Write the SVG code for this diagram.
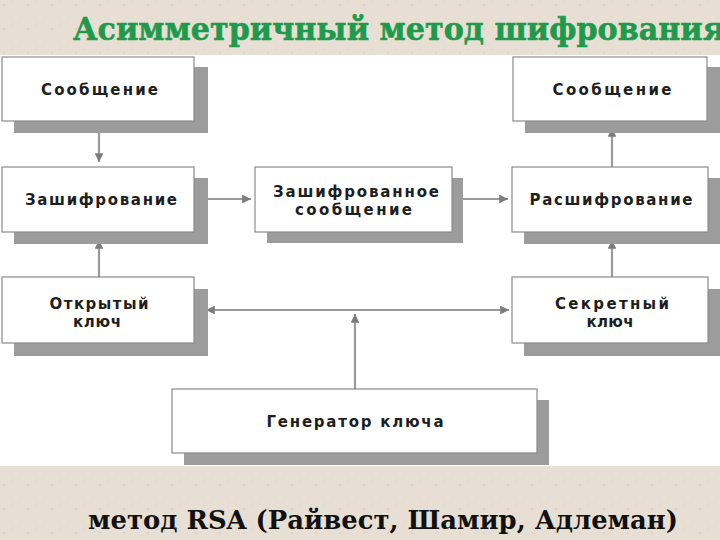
<svg xmlns="http://www.w3.org/2000/svg" width="720" height="540" viewBox="0 0 720 540">
<defs>
<style>
.box{fill:#ffffff;stroke:#8a8a8a;stroke-width:1.2}
.shd{fill:#9c9c9c}
.lbl{font-family:"DejaVu Sans","Liberation Sans",sans-serif;font-weight:bold;font-size:15px;fill:#1e1e1e;text-anchor:middle}
.con{stroke:#9a9a9a;stroke-width:2.2;fill:none}
.title{font-family:"DejaVu Serif","Liberation Serif",serif;font-weight:bold;font-size:32px;fill:#1f9a4c;stroke:#1f9a4c;stroke-width:0.6}
.sub{font-family:"DejaVu Serif","Liberation Serif",serif;font-weight:bold;font-size:26px;fill:#111111}
</style>
<marker id="ah" viewBox="0 0 10 10" refX="10" refY="5" markerWidth="4" markerHeight="4" orient="auto" markerUnits="strokeWidth">
<path d="M0,0 L10,5 L0,10 z" fill="#7c7c7c"/>
</marker>
<pattern id="tex" width="24" height="24" patternUnits="userSpaceOnUse">
<rect width="24" height="24" fill="#e8dfd4"/>
<circle cx="4" cy="5" r="1" fill="#dcd0c4"/>
<circle cx="16" cy="17" r="1" fill="#efe5da"/>
<circle cx="12" cy="2" r="0.8" fill="#e3d3cc"/>
</pattern>
</defs>
<rect x="0" y="0" width="720" height="540" fill="url(#tex)"/>
<rect x="0" y="55" width="720" height="411" fill="#ffffff"/>

<text class="title" x="73" y="40" textLength="652" lengthAdjust="spacingAndGlyphs">Асимметричный метод шифрования</text>

<g id="connectors">
<line class="con" x1="99" y1="122" x2="99" y2="162" marker-end="url(#ah)"/>
<line class="con" x1="99" y1="277" x2="99" y2="240" marker-end="url(#ah)"/>
<line class="con" x1="194" y1="199" x2="251" y2="199" marker-end="url(#ah)"/>
<line class="con" x1="452" y1="199" x2="508" y2="199" marker-end="url(#ah)"/>
<line class="con" x1="612" y1="167" x2="612" y2="128" marker-end="url(#ah)"/>
<line class="con" x1="612" y1="277" x2="612" y2="240" marker-end="url(#ah)"/>
<line class="con" x1="360" y1="310" x2="206" y2="310" marker-end="url(#ah)"/>
<line class="con" x1="350" y1="310" x2="509" y2="310" marker-end="url(#ah)"/>
<line class="con" x1="355" y1="389" x2="355" y2="314" marker-end="url(#ah)"/>
</g>

<g id="msg-left">
<rect class="shd" x="14" y="67" width="194" height="66"/>
<rect class="box" x="2" y="57" width="192" height="64"/>
<text class="lbl" x="99.5" y="95" textLength="117">Сообщение</text>
</g>
<g id="encrypt">
<rect class="shd" x="14" y="178" width="194" height="66"/>
<rect class="box" x="2" y="167" width="192" height="65"/>
<text class="lbl" x="101" y="205" textLength="152">Зашифрование</text>
</g>
<g id="pubkey">
<rect class="shd" x="14" y="289" width="194" height="67"/>
<rect class="box" x="2" y="277" width="192" height="66"/>
<text class="lbl" x="99" y="309" textLength="99">Открытый</text>
<text class="lbl" x="97" y="327" textLength="48">ключ</text>
</g>
<g id="ciphertext">
<rect class="shd" x="267" y="178" width="196" height="65"/>
<rect class="box" x="255" y="167" width="197" height="65"/>
<text class="lbl" x="356" y="197" textLength="166">Зашифрованное</text>
<text class="lbl" x="353.5" y="215" textLength="117">сообщение</text>
</g>
<g id="msg-right">
<rect class="shd" x="525" y="67" width="196" height="66"/>
<rect class="box" x="513" y="57" width="194" height="64"/>
<text class="lbl" x="612" y="95" textLength="119">Сообщение</text>
</g>
<g id="decrypt">
<rect class="shd" x="524" y="178" width="197" height="66"/>
<rect class="box" x="512" y="167" width="196" height="65"/>
<text class="lbl" x="611" y="205" textLength="163">Расшифрование</text>
</g>
<g id="seckey">
<rect class="shd" x="524" y="289" width="197" height="67"/>
<rect class="box" x="512" y="277" width="196" height="66"/>
<text class="lbl" x="612" y="309" textLength="114">Секретный</text>
<text class="lbl" x="610" y="327" textLength="47">ключ</text>
</g>
<g id="keygen">
<rect class="shd" x="184" y="400" width="365" height="65"/>
<rect class="box" x="172" y="389" width="365" height="64"/>
<text class="lbl" x="355" y="427" textLength="177">Генератор ключа</text>
</g>

<text class="sub" x="88" y="529" textLength="590" lengthAdjust="spacingAndGlyphs">метод RSA (Райвест, Шамир, Адлеман)</text>
</svg>
